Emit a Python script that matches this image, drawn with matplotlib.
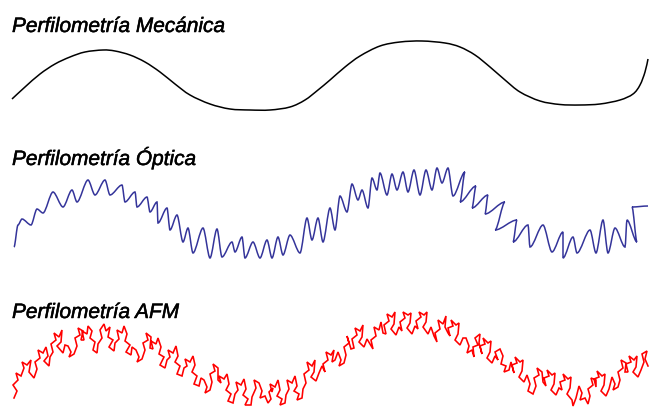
import matplotlib
matplotlib.use("Agg")
import matplotlib.pyplot as plt
import matplotlib.patheffects as pe
from matplotlib.path import Path
from matplotlib.patches import PathPatch

# ---- Data (pixel-like units; y grows downward) ----
titles = ["Perfilometría Mecánica", "Perfilometría Óptica", "Perfilometría AFM"]
title_x = [12, 12, 12]
title_y = [32, 165, 318]

mech_x = [12, 25, 40, 55, 70, 85, 103, 115, 130, 145, 160, 175, 190, 210, 230, 250, 270,
          290, 305, 318, 330, 345, 360, 380, 400, 422, 445, 460, 475, 490, 505, 520, 540,
          560, 580, 600, 620, 633, 640, 645, 648]
mech_y = [99, 87, 74, 64, 57, 52, 50, 51, 55, 62, 72, 84, 95, 104, 109, 110, 110,
          107, 100, 90, 80, 67, 56, 46, 42, 41, 43, 47, 55, 67, 80, 92, 101,
          104.5, 105, 104, 100, 94, 85, 72, 59]

opt_x = [14, 18, 22, 31, 37, 43, 53, 63, 72, 77, 88, 95, 105, 110, 122, 125, 135, 137,
         147, 150, 157, 158, 167, 170, 177, 183, 188, 193, 203, 210, 217, 222, 232, 235,
         242, 245, 253, 260, 267, 272, 278, 283, 290, 300, 307, 312, 318, 323, 330, 335,
         340, 347, 352, 358, 362, 368, 372, 377, 380, 387, 392, 397, 403, 408, 414, 420,
         426, 432, 437, 442, 448, 453, 465, 460, 476, 472, 488, 485, 505, 495, 517, 513,
         528, 530, 543, 552, 563, 563, 573, 577, 590, 596, 603, 608, 615, 625, 627, 637,
         632, 648]
opt_y = [247, 225, 219, 225, 209, 213, 192, 207, 190, 202, 180, 195, 180, 195, 185, 202, 192, 207,
         197, 212, 202, 223, 208, 230, 215, 242, 228, 253, 228, 258, 229, 257, 242, 252,
         237, 258, 242, 258, 240, 258, 237, 255, 235, 253, 218, 240, 218, 242, 208, 230,
         196, 212, 184, 200, 190, 208, 178, 190, 173, 195, 174, 190, 172, 192, 170, 195,
         170, 190, 168, 183, 168, 196, 172, 202, 186, 208, 195, 214, 202, 230, 220, 242,
         225, 247, 225, 252, 232, 258, 237, 253, 230, 253, 220, 253, 228, 247, 220, 242,
         207, 206]

afm_pts = [
    (14, 398), (17, 391), (13, 385), (18, 380), (16, 373), (21, 376), (24, 368), (22, 362),
    (27, 365), (31, 360), (29, 372), (34, 378), (37, 369), (35, 362), (40, 358), (38, 350),
    (43, 353), (46, 347), (48, 356), (44, 361), (49, 366), (50, 357), (53, 352), (51, 344),
    (56, 340), (54, 333), (59, 337), (62, 330), (61, 342), (57, 346), (63, 353), (65, 345),
    (68, 346), (71, 352), (69, 357), (74, 354), (77, 346), (75, 338), (80, 335), (78, 328),
    (83, 331), (81, 340), (84, 340), (82, 331), (87, 334), (88, 326), (92, 331), (90, 338),
    (95, 342), (93, 350), (97, 353), (98, 344), (102, 338), (100, 330), (104, 324), (106, 331),
    (110, 327), (108, 337), (113, 340), (109, 347), (114, 351), (115, 343), (119, 339),
    (117, 330), (122, 333), (124, 326), (127, 334), (125, 341), (130, 345), (126, 352),
    (131, 355), (132, 347), (136, 350), (139, 357), (137, 362), (142, 359), (145, 350),
    (143, 343), (148, 340), (146, 333), (151, 337), (150, 348), (153, 349), (151, 341),
    (156, 344), (158, 338), (161, 347), (159, 354), (164, 357), (160, 365), (165, 368),
    (167, 360), (170, 357), (168, 350), (173, 353), (176, 346), (178, 356), (175, 362),
    (180, 366), (177, 374), (182, 376), (184, 368), (187, 366), (185, 359), (190, 362),
    (193, 356), (195, 365), (192, 372), (197, 376), (194, 384), (199, 386), (201, 378),
    (204, 380), (207, 387), (205, 393), (210, 390), (212, 382), (210, 374), (215, 371),
    (213, 364), (218, 368), (218, 380), (221, 383), (219, 376), (224, 379), (227, 374),
    (229, 384), (226, 390), (231, 394), (228, 401), (233, 403), (235, 394), (238, 390),
    (236, 382), (241, 385), (244, 379), (246, 389), (243, 395), (248, 399), (245, 405),
    (251, 405), (252, 397), (256, 388), (254, 380), (259, 383), (262, 391), (260, 398),
    (265, 396), (268, 403), (271, 399), (269, 392), (273, 388), (272, 392), (270, 384),
    (275, 387), (278, 380), (280, 390), (277, 396), (282, 399), (280, 405), (285, 403),
    (286, 395), (289, 389), (287, 380), (292, 383), (295, 376), (297, 386), (294, 391),
    (299, 394), (297, 400), (302, 398), (303, 389), (306, 383), (304, 374), (309, 370),
    (307, 362), (312, 366), (315, 360), (314, 372), (311, 377), (316, 381), (319, 373),
    (322, 366), (325, 372), (323, 364), (328, 360), (326, 352), (331, 355), (334, 350),
    (332, 362), (335, 360), (338, 352), (341, 360), (339, 366), (344, 363), (346, 355),
    (344, 347), (349, 343), (347, 336), (351, 349), (354, 348), (352, 339), (357, 335),
    (355, 328), (360, 331), (363, 325), (362, 337), (359, 342), (364, 347), (367, 339),
    (370, 344), (373, 349), (371, 340), (376, 336), (374, 327), (379, 330), (381, 322),
    (383, 333), (386, 334), (384, 325), (389, 321), (387, 314), (392, 317), (395, 312),
    (394, 324), (391, 329), (396, 335), (399, 327), (402, 331), (400, 322), (405, 318),
    (403, 312), (408, 315), (411, 313), (410, 323), (407, 328), (412, 334), (415, 326),
    (418, 329), (416, 321), (421, 317), (419, 312), (424, 315), (427, 312), (426, 322),
    (423, 327), (428, 334), (431, 327), (434, 336), (437, 342), (435, 333), (440, 329),
    (438, 320), (443, 324), (446, 316), (445, 327), (448, 333), (450, 336), (448, 328),
    (453, 326), (451, 320), (456, 325), (459, 323), (458, 334), (455, 340), (460, 345),
    (463, 338), (466, 338), (469, 346), (467, 353), (472, 350), (474, 357), (473, 347),
    (478, 345), (475, 338), (480, 334), (479, 343), (482, 354), (480, 346), (485, 344),
    (483, 338), (488, 343), (491, 341), (490, 352), (487, 358), (492, 363), (495, 356),
    (498, 360), (495, 352), (500, 349), (503, 356), (501, 364), (506, 366), (504, 372),
    (509, 370), (511, 362), (514, 373), (512, 365), (517, 363), (515, 357), (520, 362),
    (523, 360), (522, 371), (519, 377), (524, 382), (527, 375), (530, 384), (528, 391),
    (533, 394), (536, 386), (534, 378), (539, 375), (537, 368), (542, 372), (543, 382),
    (546, 386), (544, 378), (549, 376), (547, 370), (552, 375), (555, 373), (554, 384),
    (551, 390), (556, 395), (559, 388), (562, 390), (560, 382), (565, 380), (563, 374),
    (568, 379), (571, 377), (570, 388), (567, 394), (572, 400), (573, 406), (576, 398),
    (579, 386), (582, 393), (580, 400), (585, 398), (588, 404), (590, 396), (588, 389),
    (593, 385), (591, 378), (596, 380), (596, 387), (594, 379), (599, 377), (597, 371),
    (602, 376), (605, 374), (604, 385), (601, 391), (606, 396), (609, 389), (612, 377),
    (615, 384), (613, 390), (618, 387), (620, 380), (618, 372), (623, 368), (621, 360),
    (626, 363), (625, 372), (628, 372), (626, 364), (631, 362), (629, 356), (634, 360),
    (637, 356), (636, 367), (633, 372), (638, 377), (641, 370), (644, 362), (642, 354),
    (647, 351), (645, 359), (648, 366),
]
afm_x = [p[0] for p in afm_pts]
afm_y = [p[1] for p in afm_pts]


def smooth_path(xs, ys, mode="catmull", k=0.3):
    """Build a Bezier path passing through the given points (rendering only)."""
    pts = list(zip(xs, ys))
    verts = [pts[0]]
    codes = [Path.MOVETO]
    n = len(pts)
    for i in range(n - 1):
        p0 = pts[i - 1] if i > 0 else pts[i]
        p1 = pts[i]
        p2 = pts[i + 1]
        p3 = pts[i + 2] if i + 2 < n else pts[i + 1]
        if mode == "catmull":
            c1 = (p1[0] + (p2[0] - p0[0]) / 6.0, p1[1] + (p2[1] - p0[1]) / 6.0)
            c2 = (p2[0] - (p3[0] - p1[0]) / 6.0, p2[1] - (p3[1] - p1[1]) / 6.0)
        else:  # horizontal tangents at extrema
            dx = p2[0] - p1[0]
            c1 = (p1[0] + dx * k, p1[1])
            c2 = (p2[0] - dx * k, p2[1])
        verts += [c1, c2, p2]
        codes += [Path.CURVE4] * 3
    return Path(verts, codes)


# ---- Figure ----
W, H = 649, 407
fig = plt.figure(figsize=(W / 100, H / 100), dpi=100)
ax = fig.add_axes([0, 0, 1, 1])
ax.set_xlim(0, W)
ax.set_ylim(H, 0)
ax.axis("off")

ax.add_patch(PathPatch(smooth_path(mech_x, mech_y, "catmull"), fill=False,
                       edgecolor="black", lw=1.1))
ax.add_patch(PathPatch(smooth_path(opt_x, opt_y, "flat", 0.3), fill=False,
                       edgecolor="#34349a", lw=1.1))
ax.plot(afm_x, afm_y, color="#ff0000", lw=1.15, solid_joinstyle="miter")

for t, x, y in zip(titles, title_x, title_y):
    ax.text(x, y, t, fontsize=15, fontstyle="italic", family="Liberation Sans",
            va="baseline", ha="left", color="black",
            path_effects=[pe.withStroke(linewidth=0.35, foreground="black")])

fig.savefig("out.png", dpi=100)
